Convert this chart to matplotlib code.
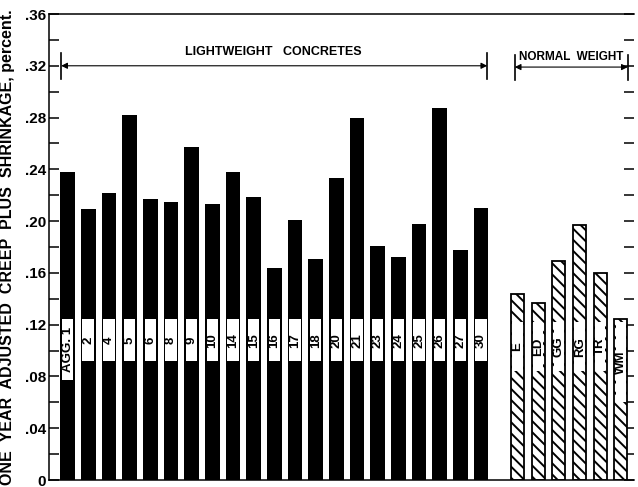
import matplotlib.pyplot as plt
import numpy as np

# Lightweight concretes (aggregate numbers) and one-year creep + shrinkage, percent
light_labels = ['AGG. 1', '2', '4', '5', '6', '8', '9', '10', '14', '15', '16',
                '17', '18', '20', '21', '23', '24', '25', '26', '27', '30']
light_values = [0.238, 0.209, 0.222, 0.282, 0.217, 0.215, 0.257, 0.213, 0.238, 0.219, 0.164,
                0.201, 0.171, 0.233, 0.280, 0.181, 0.172, 0.198, 0.287, 0.178, 0.210]

# Normal weight concretes
normal_labels = ['E', 'ED', 'GG', 'RG', 'TR', 'WM']
normal_values = [0.144, 0.137, 0.169, 0.197, 0.160, 0.124]

yticks = [0, 0.04, 0.08, 0.12, 0.16, 0.20, 0.24, 0.28, 0.32, 0.36]
ytick_labels = ['0', '.04', '.08', '.12', '.16', '.20', '.24', '.28', '.32', '.36']

plt.rcParams['font.family'] = ['Liberation Sans', 'DejaVu Sans']
plt.rcParams['hatch.linewidth'] = 1.4

fig = plt.figure(figsize=(6.38, 4.87), dpi=100)
ax = fig.add_axes([49 / 638, 7 / 487, (634 - 49) / 638, 466 / 487])

x_light = np.arange(len(light_values))
x_normal = 21.77 + np.arange(len(normal_values)) * 1.0

# Lightweight bars: solid black with a white label window
ax.bar(x_light, light_values, width=0.72, color='black', zorder=2)
for i, (xp, lab) in enumerate(zip(x_light, light_labels)):
    lo = 0.077 if i == 0 else 0.092
    ax.bar(xp, 0.124 - lo, bottom=lo, width=0.56, color='white', zorder=3)
    ax.text(xp, (lo + 0.124) / 2, lab, rotation=90, ha='center', va='center',
            fontsize=9.5, fontweight='bold', zorder=4)

# Normal weight bars: hatched with a white label window
ax.bar(x_normal, normal_values, width=0.63, color='white', edgecolor='black',
       hatch='\\\\\\', linewidth=1.3, zorder=2)
for i, (xp, lab) in enumerate(zip(x_normal, normal_labels)):
    lo = 0.060 if lab == 'WM' else 0.084
    ax.bar(xp, 0.122 - lo, bottom=lo, width=0.50, color='white', zorder=3)
    ax.text(xp, (lo + 0.122) / 2, lab, rotation=90, ha='center', va='center',
            fontsize=9.5, fontweight='bold', zorder=4)

# Group annotations with dimension arrows
def span_arrow(x0, x1, y, ybar):
    ax.annotate('', xy=(x0, y), xytext=(x1, y),
                arrowprops=dict(arrowstyle='<|-|>', color='black', lw=0.8,
                                mutation_scale=9, shrinkA=0, shrinkB=0))
    for xe in (x0, x1):
        ax.plot([xe, xe], ybar, color='black', lw=1.2)

span_arrow(-0.31, 20.3, 0.320, [0.310, 0.330])
ax.text(9.95, 0.331, 'LIGHTWEIGHT   CONCRETES', ha='center', va='center',
        fontsize=9, fontweight='bold')
span_arrow(21.63, 27.1, 0.319, [0.309, 0.328])
ax.text(24.37, 0.3265, 'NORMAL  WEIGHT', ha='center', va='center',
        fontsize=8.5, fontweight='bold')

# Axes styling
ax.set_xlim(-0.9, 27.4)
ax.set_ylim(0, 0.36)
ax.set_xticks([])
ax.set_yticks(yticks)
ax.set_yticklabels(ytick_labels, fontsize=11, fontweight='bold')
ax.set_yticks(np.arange(0, 0.361, 0.02), minor=True)
ax.tick_params(axis='y', which='both', direction='in', length=7, width=1.1, pad=2,
               right=True)
ax.spines['right'].set_visible(False)
for s in ('left', 'top', 'bottom'):
    ax.spines[s].set_linewidth(1.1)

ax.set_ylabel('ONE  YEAR  ADJUSTED  CREEP  PLUS  SHRINKAGE, percent.',
              fontsize=11.5, fontweight='bold')
ax.yaxis.set_label_coords(-0.058, 0.5)

fig.savefig('out.png', dpi=100)
